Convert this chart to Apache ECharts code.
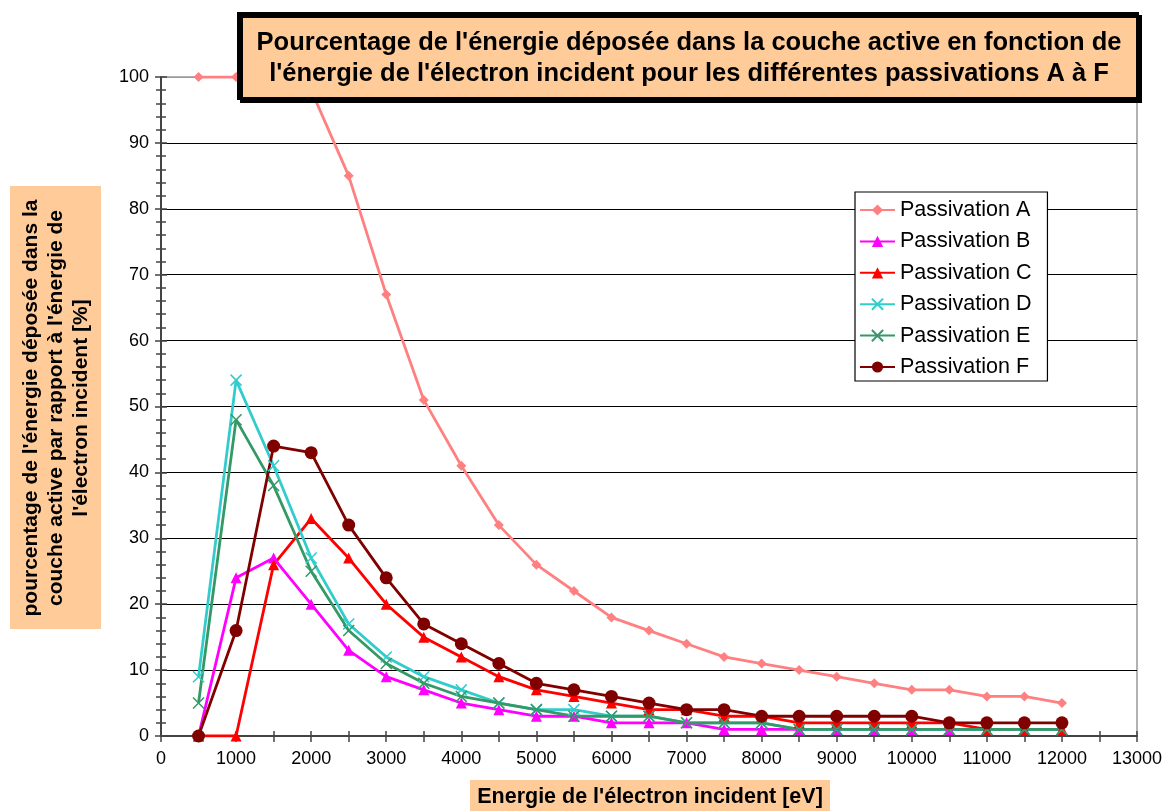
<!DOCTYPE html>
<html>
<head>
<meta charset="utf-8">
<script src="https://cdn.jsdelivr.net/npm/echarts@6/dist/echarts.min.js"></script>
<style>html,body{margin:0;padding:0;background:#fff}#c{width:1167px;height:811px}</style>
</head>
<body>
<div id="c"></div>
<script>
const energies = [500,1000,1500,2000,2500,3000,3500,4000,4500,5000,5500,6000,6500,7000,7500,8000,8500,9000,9500,10000,10500,11000,11500,12000];
const passA = [100,100,100,98,85,67,51,41,32,26,22,18,16,14,12,11,10,9,8,7,7,6,6,5];
const passB = [0,24,27,20,13,9,7,5,4,3,3,2,2,2,1,1,1,1,1,1,1,1,1,1];
const passC = [0,0,26,33,27,20,15,12,9,7,6,5,4,4,3,3,2,2,2,2,2,1,1,1];
const passD = [9,54,41,27,17,12,9,7,5,4,4,3,3,2,2,2,1,1,1,1,1,1,1,1];
const passE = [5,48,38,25,16,11,8,6,5,4,3,3,3,2,2,2,1,1,1,1,1,1,1,1];
const passF = [0,16,44,43,32,24,17,14,11,8,7,6,5,4,4,3,3,3,3,3,2,2,2,2];
const seriesNames = ['Passivation A','Passivation B','Passivation C','Passivation D','Passivation E','Passivation F'];
const titleLines = ["Pourcentage de l'énergie déposée dans la couche active en fonction de", "l'énergie de l'électron incident pour les différentes passivations A à F"];
const yLabelLines = ["pourcentage de l'énergie déposée dans la", "couche active par rapport à l'énergie de", "l'électron incident [%]"];
const xLabel = "Energie de l'électron incident [eV]";

const FONT = 'Arial, "Liberation Sans", sans-serif';
const pair = v => energies.map((e, i) => [e, v[i]]);
const crossPath = 'path://M0,0L10,10M10,0L0,10';

function mk(name, data, color, symbol, size, extra) {
  return Object.assign({
    name: name, type: 'line', data: pair(data),
    xAxisIndex: 0, yAxisIndex: 0,
    symbol: symbol, symbolSize: size, showSymbol: true,
    lineStyle: {color: color, width: 2.8},
    itemStyle: {color: color},
    animation: false
  }, extra || {});
}

const chart = echarts.init(document.getElementById('c'));
const gridColors = ['#000','#000','#000','#000','#000','#000','#000','#000','#000','#000','#999'];
chart.setOption({
  backgroundColor: '#fff',
  animation: false,
  grid: {left: 161, right: 30, top: 77, bottom: 75, show: true, borderColor: '#999', borderWidth: 1.5, backgroundColor: 'transparent'},
  xAxis: [{
    type: 'value', min: 0, max: 13000, interval: 1000,
    axisLine: {onZero: false, lineStyle: {color: '#444', width: 2}},
    axisTick: {show: true, inside: false, length: 6, lineStyle: {color: '#444', width: 1.5}},
    minorTick: {show: true, splitNumber: 2, length: 6, lineStyle: {color: '#444', width: 1.5}},
    axisLabel: {fontSize: 18, color: '#000', fontFamily: FONT, margin: 14, formatter: v => String(v)},
    splitLine: {show: false}
  }, {
    type: 'value', min: 0, max: 13000, interval: 1000, position: 'bottom',
    axisLine: {show: false, onZero: false},
    axisTick: {show: true, inside: true, length: 5, lineStyle: {color: '#444', width: 1.5}},
    minorTick: {show: true, splitNumber: 2, length: 5, lineStyle: {color: '#444', width: 1.5}},
    axisLabel: {show: false}, splitLine: {show: false}
  }],
  yAxis: [{
    type: 'value', min: 0, max: 100, interval: 10,
    axisLine: {show: true, lineStyle: {color: '#444', width: 2}},
    axisTick: {show: true, inside: false, length: 6, lineStyle: {color: '#444', width: 1.5}},
    minorTick: {show: true, splitNumber: 5, length: 5, lineStyle: {color: '#444', width: 1.5}},
    axisLabel: {fontSize: 18, color: '#000', fontFamily: FONT, margin: 12},
    splitLine: {show: true, lineStyle: {color: gridColors, width: 1}}
  }, {
    type: 'value', min: 0, max: 100, interval: 10, position: 'left',
    axisLine: {show: false},
    axisTick: {show: true, inside: true, length: 6, lineStyle: {color: '#444', width: 1.5}},
    minorTick: {show: true, splitNumber: 5, length: 5, lineStyle: {color: '#444', width: 1.5}},
    axisLabel: {show: false}, splitLine: {show: false}
  }],
  legend: {
    orient: 'vertical', left: 855, top: 192,
    backgroundColor: '#fff', borderColor: '#000', borderWidth: 1.2,
    padding: [7, 16, 3, 4], itemWidth: 35, itemHeight: 14, itemGap: 9.4,
    textStyle: {fontSize: 21.5, lineHeight: 22, color: '#000', fontFamily: FONT, padding: [0, 0, 0, 0]},
    data: seriesNames
  },
  series: [
    mk(seriesNames[0], passA, '#FF8080', 'diamond', 10),
    mk(seriesNames[1], passB, '#FF00FF', 'triangle', 11),
    mk(seriesNames[2], passC, '#FF0000', 'triangle', 11),
    mk(seriesNames[3], passD, '#33CCCC', crossPath, 11, {itemStyle: {color: '#33CCCC', borderColor: '#33CCCC', borderWidth: 1.5}}),
    mk(seriesNames[4], passE, '#339966', crossPath, 11, {itemStyle: {color: '#339966', borderColor: '#339966', borderWidth: 1.5}}),
    mk(seriesNames[5], passF, '#800000', 'circle', 13)
  ],
  graphic: [
    {type: 'rect', left: 237, top: 12, z: 100,
     shape: {width: 899, height: 85},
     style: {fill: '#FFCC99', stroke: '#000', lineWidth: 3, shadowColor: '#000', shadowOffsetX: 3, shadowOffsetY: 3, shadowBlur: 0}},
    {type: 'text', x: 689, y: 58, z: 101,
     style: {text: titleLines.join('\n'), fontSize: 25.5, fontWeight: 'bold', fontFamily: FONT, fill: '#000', textAlign: 'center', textVerticalAlign: 'middle', lineHeight: 31}},
    {type: 'rect', left: 10, top: 186, z: 100,
     shape: {width: 91, height: 443}, style: {fill: '#FFCC99'}},
    {type: 'text', x: 56, y: 408, rotation: Math.PI / 2, z: 101,
     style: {text: yLabelLines.join('\n'), fontSize: 21, fontWeight: 'bold', fontFamily: FONT, fill: '#000', textAlign: 'center', textVerticalAlign: 'middle', lineHeight: 25}},
    {type: 'rect', left: 470, top: 780, z: 100,
     shape: {width: 360, height: 31}, style: {fill: '#FFCC99'}},
    {type: 'text', x: 650, y: 797, z: 101,
     style: {text: xLabel, fontSize: 21.5, fontWeight: 'bold', fontFamily: FONT, fill: '#000', textAlign: 'center', textVerticalAlign: 'middle'}}
  ]
});
</script>
</body>
</html>
